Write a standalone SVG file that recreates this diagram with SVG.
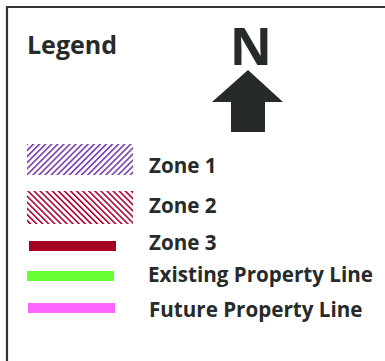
<svg xmlns="http://www.w3.org/2000/svg" width="385" height="361" viewBox="0 0 385 361">
<style>
.t{font-family:"Open Sans","Noto Sans","Liberation Sans",sans-serif;font-weight:bold;fill:#262a2b}
.lbl{font-size:20.6px}
</style>
<defs>
<pattern id="h1" width="4.3" height="4.3" patternUnits="userSpaceOnUse" patternTransform="rotate(45)">
<rect x="0" y="0" width="1.6" height="4.3" fill="#7a3bb5"/>
</pattern>
<pattern id="h2" width="4.3" height="4.3" patternUnits="userSpaceOnUse" patternTransform="rotate(-45)">
<rect x="0" y="0" width="1.6" height="4.3" fill="#b3002d"/>
</pattern>
</defs>
<rect width="385" height="361" fill="#ffffff"/>
<g id="frame">
<path d="M7 361 V7 H385" fill="none" stroke="#2f3533" stroke-width="2.2"/>
</g>
<g id="title">
<text class="t" x="27" y="54" font-size="25">Legend</text>
</g>
<g id="north">
<text class="t" x="251" y="65" font-size="52" text-anchor="middle">N</text>
<polygon points="248,70 283,102 265,102 265,132 231,132 231,102 212,102" fill="#262a2b"/>
</g>
<g id="zone1">
<rect x="27" y="144" width="106" height="31" fill="url(#h1)"/>
<text class="t lbl" x="149" y="173">Zone 1</text>
</g>
<g id="zone2">
<rect x="27" y="191" width="106" height="33" fill="url(#h2)"/>
<text class="t lbl" x="149" y="213">Zone 2</text>
</g>
<g id="zone3">
<rect x="29" y="241" width="87" height="10" fill="#a50021"/>
<text class="t lbl" x="149" y="250">Zone 3</text>
</g>
<g id="existing">
<rect x="27" y="271" width="87" height="10" fill="#66ff33"/>
<text class="t lbl" x="148" y="282">Existing Property Line</text>
</g>
<g id="future">
<rect x="28" y="303" width="87" height="10" fill="#ff66ff"/>
<text class="t lbl" x="149" y="317">Future Property Line</text>
</g>
<g id="connectors"/>
</svg>
